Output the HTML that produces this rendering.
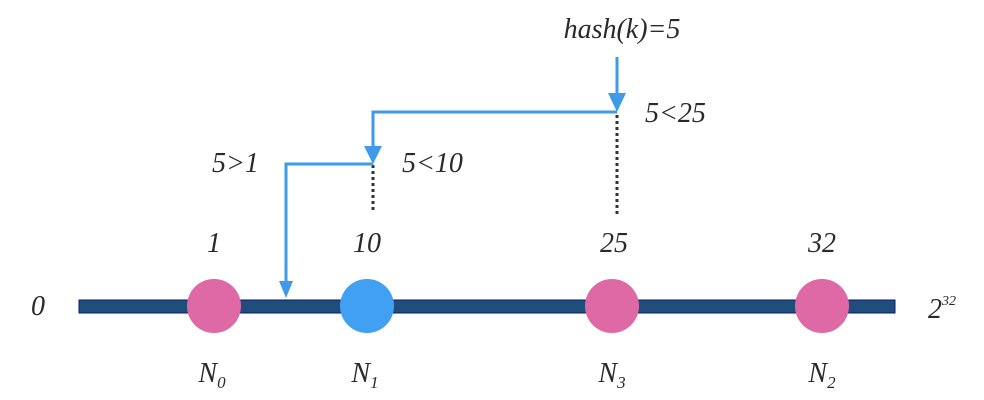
<!DOCTYPE html>
<html><head><style>
html,body{margin:0;padding:0;background:#fff;}
svg{display:block}
text{font-family:"Liberation Serif",serif;font-style:italic;fill:#2a2a2a;}
</style></head><body>
<svg width="984" height="400" viewBox="0 0 984 400" xmlns="http://www.w3.org/2000/svg">
<rect x="79" y="300" width="816" height="13" fill="#1f4e7a" stroke="#0b1a6e" stroke-width="1"/>
<ellipse cx="214" cy="306" rx="27" ry="27" fill="#de69a4"/>
<ellipse cx="367" cy="306" rx="27" ry="27" fill="#42a0f2"/>
<ellipse cx="612" cy="306" rx="27" ry="27" fill="#de69a4"/>
<ellipse cx="822" cy="306" rx="27" ry="27" fill="#de69a4"/>
<g stroke="#333" stroke-width="3" stroke-dasharray="3,3">
<line x1="617" y1="115" x2="617" y2="216"/>
<line x1="373" y1="165" x2="373" y2="210"/>
</g>
<g stroke="#3f9ae8" stroke-width="3" fill="none">
<polyline points="617,57 617,95"/>
<polyline points="617,112 373,112 373,146"/>
<polyline points="373,164 286,164 286,282"/>
</g>
<g fill="#3f9ae8">
<polygon points="608,93 626,93 617,112"/>
<polygon points="364,146 382,146 373,164"/>
<polygon points="279,281 293,281 286,298"/>
</g>
<g font-size="28">
<text x="622" y="38" text-anchor="middle">hash(k)=5</text>
<text x="645" y="122">5&lt;25</text>
<text x="402" y="172">5&lt;10</text>
<text x="212" y="172">5&gt;1</text>
<text x="214" y="252" text-anchor="middle">1</text>
<text x="367" y="252" text-anchor="middle">10</text>
<text x="614" y="252" text-anchor="middle">25</text>
<text x="822" y="252" text-anchor="middle">32</text>
<text x="38" y="315" text-anchor="middle">0</text>
<text x="928" y="318">2<tspan font-size="14" dy="-13">32</tspan></text>
<text x="212" y="382" text-anchor="middle">N<tspan font-size="17" dy="6">0</tspan></text>
<text x="365" y="382" text-anchor="middle">N<tspan font-size="17" dy="6">1</tspan></text>
<text x="612" y="382" text-anchor="middle">N<tspan font-size="17" dy="6">3</tspan></text>
<text x="822" y="382" text-anchor="middle">N<tspan font-size="17" dy="6">2</tspan></text>
</g>
</svg>
</body></html>
